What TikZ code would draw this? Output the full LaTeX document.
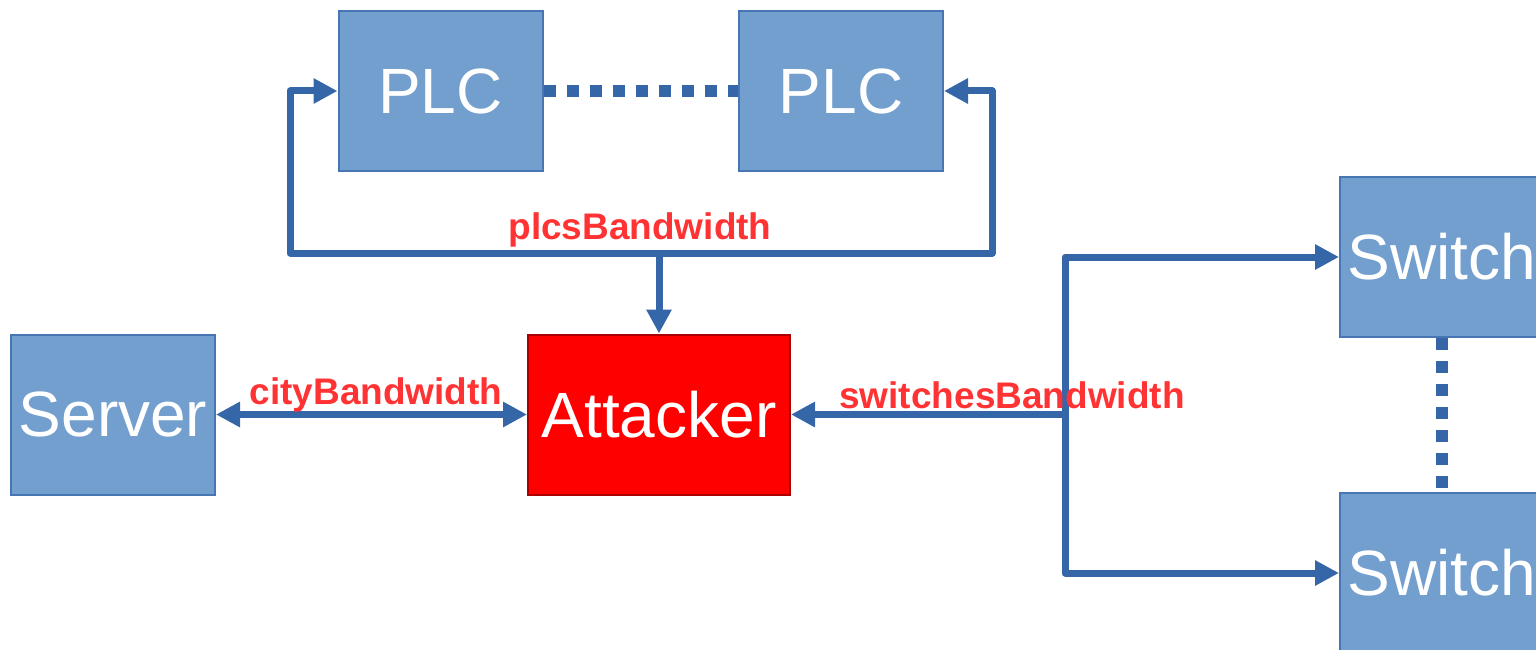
\documentclass[tikz,border=0pt]{standalone}
\usepackage{fontspec}
\setmainfont{Liberation Sans}
\usetikzlibrary{arrows.meta}
\definecolor{boxfill}{RGB}{115,159,207}
\definecolor{boxline}{RGB}{70,118,180}
\definecolor{wire}{RGB}{53,102,168}
\definecolor{labelred}{RGB}{255,51,51}
\definecolor{attackline}{RGB}{170,0,0}
\tikzset{
  unit/.style={draw=boxline, line width=2pt, fill=boxfill, text=white,
    minimum width=204pt, minimum height=160pt, inner sep=0pt,
    font=\fontsize{64}{64}\selectfont},
  threat/.style={unit, fill=red, draw=attackline, minimum width=262pt},
  link/.style={draw=wire, line width=7pt,
    arrows={-Triangle[length=24pt,width=24pt]}},
  dualink/.style={link, arrows={Triangle[length=24pt,width=24pt]-Triangle[length=24pt,width=24pt]}},
  dots/.style={draw=wire, line width=12pt, dash pattern=on 12pt off 11pt},
  bw/.style={text=labelred, font=\bfseries\fontsize{37}{37}\selectfont, inner sep=0pt}
}
\begin{document}
\begin{tikzpicture}[x=1pt,y=-1pt]
  \useasboundingbox (0,0) rectangle (1536,650);
  \clip (0,0) rectangle (1536,650);

  % devices
  \node[unit] (plcA) at (440.5,91) {PLC};
  \node[unit] (plcB) at (841,91) {PLC};
  \node[unit] (server) at (113,414.5) {Server};
  \node[threat] (attacker) at (659,414.5) {Attacker};
  \node[unit] (swA) at (1442,257) {Switch};
  \node[unit] (swB) at (1442,573) {Switch};

  % peer links
  \draw[dots] (plcA.east) -- (plcB.west);
  \draw[dots] (swA.south) -- (swB.north);

  % PLC bus
  \coordinate (busL) at (290,253);
  \coordinate (busR) at (992,253);
  \coordinate (busM) at (659,253);
  \draw[link, line join=round] (busM) -- (busL) |- (plcA.west);
  \draw[link, line join=round] (busM) -- (busR) |- (plcB.east);
  \draw[link] (busM) -- (attacker.north);
  \node[bw] (plcsbw) at (640,230) {plcsBandwidth};

  % server link
  \draw[dualink] (server.east) -- (attacker.west);
  \node[bw] (citybw) at (376,395) {cityBandwidth};

  % switch fan-out
  \coordinate (fork) at (1065,414.5);
  \coordinate (forkT) at (1065,257);
  \coordinate (forkB) at (1065,573);
  \draw[link] (fork) -- (attacker.east);
  \draw[link, line join=round] (fork) -- (forkT) -- (swA.west);
  \draw[link, line join=round] (fork) -- (forkB) -- (swB.west);
  \node[bw] (swbw) at (1012,395) {switchesBandwidth};
\end{tikzpicture}
\end{document}
